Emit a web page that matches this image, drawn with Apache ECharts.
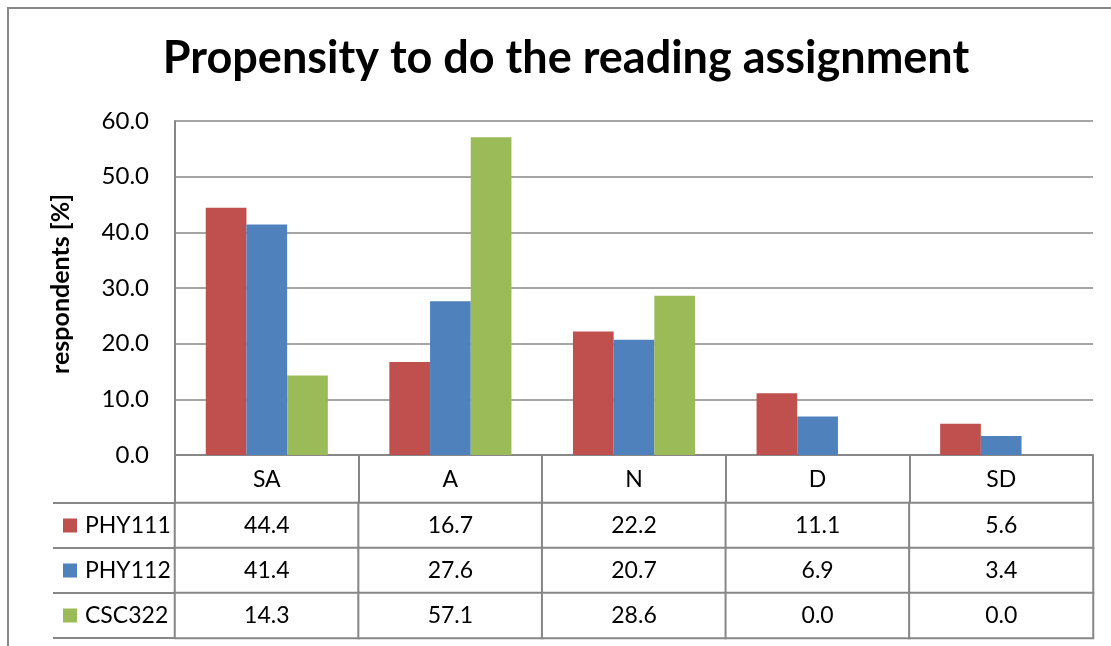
<!DOCTYPE html>
<html>
<head>
<meta charset="utf-8">
<script src="https://cdn.jsdelivr.net/npm/echarts@6/dist/echarts.min.js"></script>
<style>html,body{margin:0;padding:0;background:#fff}#c{width:1111px;height:646px}</style>
</head>
<body>
<div id="c"></div>
<script>
const categories = ['SA', 'A', 'N', 'D', 'SD'];
const seriesNames = ['PHY111', 'PHY112', 'CSC322'];
const phy111 = [44.4, 16.7, 22.2, 11.1, 5.6];
const phy112 = [41.4, 27.6, 20.7, 6.9, 3.4];
const csc322 = [14.3, 57.1, 28.6, 0.0, 0.0];
const colors = ['#C0504D', '#4F81BD', '#9BBB59'];
const yMin = 0, yMax = 60, yStep = 10;

const FONT = 'Lato';
const GREY = '#878787';
const values = [phy111, phy112, csc322];

const tableData = [];
values.forEach((arr, s) => arr.forEach((v, c) => tableData.push([c, s, v])));

const rich = {name: {fontSize: 23, fontFamily: FONT, color: '#000', padding: [0, 0, 0, 8]}};
colors.forEach((col, i) => { rich['sq' + i] = {backgroundColor: col, width: 14, height: 14}; });

const chart = echarts.init(document.getElementById('c'));
chart.setOption({
  animation: false,
  backgroundColor: '#fff',
  textStyle: {fontFamily: FONT},
  title: {
    text: 'Propensity to do the reading assignment',
    left: 561, top: 31, textAlign: 'center',
    textStyle: {fontFamily: FONT, fontWeight: 'bold', fontSize: 45, color: '#000'}
  },
  graphic: [{
    type: 'rect', silent: true,
    shape: {x: 8, y: 8, width: 1400, height: 1000},
    style: {fill: null, stroke: GREY, lineWidth: 2}
  }],
  grid: [
    {left: 175, right: 18, top: 121, height: 334},
    {left: 175, right: 18, top: 503, height: 135}
  ],
  xAxis: [{
    type: 'category', gridIndex: 0, data: categories,
    axisLine: {show: true, lineStyle: {color: GREY, width: 2}},
    axisTick: {show: true, length: 48, interval: 0, lineStyle: {color: GREY, width: 2}},
    axisLabel: {fontSize: 23, fontFamily: FONT, color: '#000', margin: 13, interval: 0}
  }, {
    type: 'category', gridIndex: 1, data: categories,
    axisLine: {show: false}, axisTick: {show: false}, axisLabel: {show: false}
  }],
  yAxis: [{
    type: 'value', gridIndex: 0, min: yMin, max: yMax, interval: yStep,
    name: 'respondents [%]', nameLocation: 'middle', nameGap: 102,
    nameTextStyle: {fontFamily: FONT, fontWeight: 'bold', fontSize: 25, color: '#000', padding: [0, 0, 0, 8]},
    axisLine: {show: true, lineStyle: {color: GREY, width: 2}},
    axisTick: {show: false},
    splitLine: {show: true, lineStyle: {color: GREY, width: 1.5}},
    axisLabel: {fontSize: 24, fontFamily: FONT, color: '#000', margin: 26, formatter: v => v.toFixed(1)}
  }, {
    type: 'category', gridIndex: 1, data: seriesNames, inverse: true,
    axisLine: {show: true, lineStyle: {color: GREY, width: 2}},
    axisTick: {show: true, length: 122, interval: 0, lineStyle: {color: GREY, width: 2}},
    axisLabel: {
      margin: 112, align: 'left', interval: 0,
      formatter: (v, i) => '{sq' + i + '|}{name|' + v + '}',
      rich: rich
    }
  }, {
    type: 'category', gridIndex: 1, data: seriesNames, inverse: true, offset: 122,
    axisLine: {show: true, lineStyle: {color: GREY, width: 2}},
    axisTick: {show: false}, axisLabel: {show: false}
  }],
  visualMap: {show: false, seriesIndex: 3, min: 0, max: 100, dimension: 2, inRange: {color: ['#ffffff', '#ffffff']}},
  series: [
    {name: seriesNames[0], type: 'bar', data: phy111, itemStyle: {color: colors[0]}, barGap: '0%', barCategoryGap: '33.5%'},
    {name: seriesNames[1], type: 'bar', data: phy112, itemStyle: {color: colors[1]}, barGap: '0%', barCategoryGap: '33.5%'},
    {name: seriesNames[2], type: 'bar', data: csc322, itemStyle: {color: colors[2]}, barGap: '0%', barCategoryGap: '33.5%'},
    {
      type: 'heatmap', xAxisIndex: 1, yAxisIndex: 1, data: tableData,
      itemStyle: {color: '#fff', borderColor: GREY, borderWidth: 2},
      label: {show: true, fontSize: 23, fontFamily: FONT, color: '#000', formatter: p => p.value[2].toFixed(1)},
      emphasis: {disabled: true}
    }
  ]
});
</script>
</body>
</html>
